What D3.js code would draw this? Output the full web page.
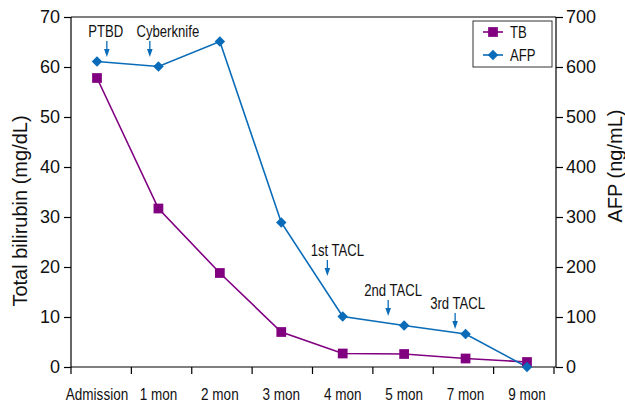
<!DOCTYPE html>
<html>
<head>
<meta charset="utf-8">
<script src="https://cdn.jsdelivr.net/npm/d3@7"></script>
<style>
    body { margin: 0; background: #fff; }
    text { font-family: "Liberation Sans", Arial, sans-serif; fill: #111; }
</style>
</head>
<body>
<script>
// Data
let categories = ["Admission", "1 mon", "2 mon", "3 mon", "4 mon", "5 mon", "7 mon", "9 mon"];
let tbValues = [57.8, 31.7, 18.8, 7.0, 2.7, 2.6, 1.7, 1.0];
let afpValues = [611, 601, 651, 289, 101, 83, 66, 0];
let leftTicks = [0, 10, 20, 30, 40, 50, 60, 70];
let rightTicks = [0, 100, 200, 300, 400, 500, 600, 700];

// Treatment annotations: label, fractional category index, arrow tip (left axis units)
let noteLabels = ["PTBD", "Cyberknife", "1st TACL", "2nd TACL", "3rd TACL"];
let notePos = [0.16, 0.86, 3.75, 4.74, 5.83];
let noteTip = [62.0, 62.0, 18.2, 10.2, 7.6];

let opts = {
    width: 625,
    height: 405,
    left: 71,
    right: 556,
    top: 17,
    bottom: 367,
    narrow: 0.82
};

// horizontal offset of each note label from its arrow
let noteShift = [-1, 18, 10, 5, 2.5];

let tbColor = "#800080";
let afpColor = "#0a6cb8";

let svg = d3.select("body").append("svg")
    .attr("width", opts.width)
    .attr("height", opts.height);

// Scales
let xBand = d3.scaleBand().domain(categories).range([opts.left, 554]);
let xPoint = d3.scalePoint().domain(categories).range([97, 527]);
let idx = d3.scaleLinear().domain([0, categories.length - 1]).range([97, 527]);
let yLeft = d3.scaleLinear().domain([0, 70]).range([opts.bottom, opts.top]);
let yRight = d3.scaleLinear().domain([0, 700]).range([opts.bottom, opts.top]);

// Top frame line
svg.append("line")
    .attr("x1", opts.left).attr("x2", opts.right)
    .attr("y1", opts.top).attr("y2", opts.top)
    .attr("stroke", "#000").attr("stroke-width", 1.2);

// Left axis
let leftAxis = svg.append("g")
    .attr("transform", `translate(${opts.left},0)`)
    .call(d3.axisLeft(yLeft).tickValues(leftTicks).tickSize(7).tickPadding(4));

// Right axis
let rightAxis = svg.append("g")
    .attr("transform", `translate(${opts.right},0)`)
    .call(d3.axisRight(yRight).tickValues(rightTicks).tickSize(7).tickPadding(3));

[leftAxis, rightAxis].forEach(g => {
    g.selectAll("path, line").attr("stroke", "#000").attr("stroke-width", 1.2);
    g.selectAll("text").style("font-size", "18px").attr("fill", "#111");
});
leftAxis.select(".domain").attr("d", `M0,${opts.bottom}V${opts.top}`);
rightAxis.select(".domain").attr("d", `M0,${opts.bottom}V${opts.top}`);

// Bottom axis: ticks on band edges, labels under points
let edges = categories.map(c => xBand(c)).concat([xBand.range()[1]]);
let xAxisG = svg.append("g");
xAxisG.append("line")
    .attr("x1", opts.left).attr("x2", opts.right)
    .attr("y1", opts.bottom).attr("y2", opts.bottom)
    .attr("stroke", "#000").attr("stroke-width", 1.2);
xAxisG.selectAll(".xtick")
    .data(edges)
    .enter().append("line")
    .attr("x1", d => d).attr("x2", d => d)
    .attr("y1", opts.bottom).attr("y2", opts.bottom + 7)
    .attr("stroke", "#000").attr("stroke-width", 1.2);
xAxisG.selectAll(".xlabel")
    .data(categories)
    .enter().append("text")
    .attr("transform", d => `translate(${xPoint(d)},400) scale(${opts.narrow},1)`)
    .attr("text-anchor", "middle")
    .style("font-size", "16.5px")
    .text(d => d);

// Axis titles
svg.append("text")
    .attr("transform", `translate(27,211) rotate(-90)`)
    .attr("text-anchor", "middle")
    .style("font-size", "20px")
    .text("Total bilirubin (mg/dL)");

svg.append("text")
    .attr("transform", `translate(622,166) rotate(-90)`)
    .attr("text-anchor", "middle")
    .style("font-size", "20px")
    .text("AFP (ng/mL)");

// Lines
let tbLine = d3.line().x((d, i) => xPoint(categories[i])).y(d => yLeft(d));
let afpLine = d3.line().x((d, i) => xPoint(categories[i])).y(d => yRight(d));

svg.append("path")
    .datum(tbValues)
    .attr("d", tbLine)
    .attr("fill", "none")
    .attr("stroke", tbColor)
    .attr("stroke-width", 1.6);

svg.append("path")
    .datum(afpValues)
    .attr("d", afpLine)
    .attr("fill", "none")
    .attr("stroke", afpColor)
    .attr("stroke-width", 1.6);

// Markers
let square = d3.symbol().type(d3.symbolSquare).size(95);
let diamond = d3.symbol().type(d3.symbolDiamond2).size(70);

svg.selectAll(".tb")
    .data(tbValues)
    .enter().append("path")
    .attr("d", square)
    .attr("transform", (d, i) => `translate(${xPoint(categories[i])},${yLeft(d)})`)
    .attr("fill", tbColor);

svg.selectAll(".afp")
    .data(afpValues)
    .enter().append("path")
    .attr("d", diamond)
    .attr("transform", (d, i) => `translate(${xPoint(categories[i])},${yRight(d)})`)
    .attr("fill", afpColor);

// Annotations with arrows
let notes = svg.selectAll(".note")
    .data(noteLabels)
    .enter().append("g")
    .attr("transform", (d, i) => `translate(${idx(notePos[i])},${yLeft(noteTip[i])})`);

notes.append("text")
    .attr("text-anchor", "middle")
    .style("font-size", "16px")
    .attr("transform", (d, i) => `translate(${noteShift[i]},-20) scale(${opts.narrow},1)`)
    .text(d => d);

notes.append("line")
    .attr("x1", 0).attr("x2", 0)
    .attr("y1", -16).attr("y2", -6)
    .attr("stroke", afpColor).attr("stroke-width", 1.3);

notes.append("path")
    .attr("d", "M-2.8,-8L2.8,-8L0,0Z")
    .attr("fill", afpColor);

// Legend
let legend = svg.append("g");
legend.append("rect")
    .attr("x", 473).attr("y", 21)
    .attr("width", 79).attr("height", 46)
    .attr("fill", "#fff")
    .attr("stroke", "#333").attr("stroke-width", 1);

let legendItems = [
    { label: "TB", color: tbColor, shape: square },
    { label: "AFP", color: afpColor, shape: diamond }
];

let li = legend.selectAll(".item")
    .data(legendItems)
    .enter().append("g")
    .attr("transform", (d, i) => `translate(0,${32 + i * 23})`);

li.append("line")
    .attr("x1", 483).attr("x2", 503)
    .attr("stroke", d => d.color).attr("stroke-width", 1.6);
li.append("path")
    .attr("d", d => d.shape())
    .attr("transform", "translate(493,0)")
    .attr("fill", d => d.color);
li.append("text")
    .attr("transform", `translate(510,6) scale(${opts.narrow},1)`)
    .style("font-size", "16px")
    .text(d => d.label);
</script>
</body>
</html>
